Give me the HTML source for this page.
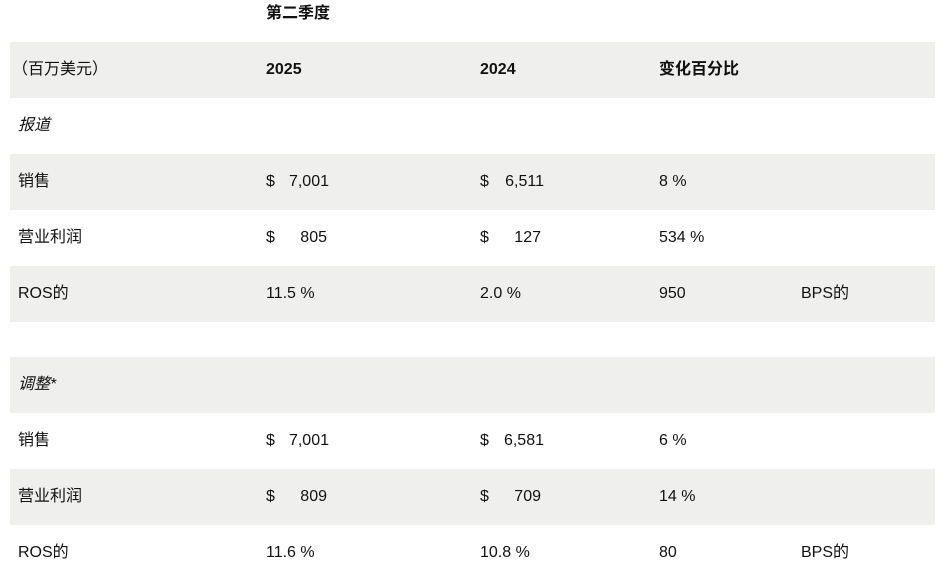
<!DOCTYPE html>
<html><head><meta charset="utf-8"><style>
body{margin:0;width:945px;height:577px;background:#fff;font-family:"Liberation Sans","Noto Sans CJK SC",sans-serif;font-size:16px;color:#111;position:relative;overflow:hidden}
.band{position:absolute;left:10px;width:925px;height:56px;background:#efefed}
.t{position:absolute;line-height:20px;white-space:nowrap}
.b{font-weight:bold}.i{font-style:italic}
.r{text-align:right}
</style></head><body>
<div class="t b" style="left:266px;top:4px">第二季度</div>
<div class="band" style="top:42px"></div>
<div class="band" style="top:154px"></div>
<div class="band" style="top:266px"></div>
<div class="band" style="top:357px"></div>
<div class="band" style="top:469px"></div>
<div id="cells"></div>
<script>
const rows=[
 {y:60,c:[["（百万美元）",12,""],["2025",266,"b"],["2024",480,"b"],["变化百分比",659,"b"]]},
 {y:116,c:[["报道",18,"i"]]},
 {y:172,c:[["销售",18,""],["$",266,""],["7,001",329,"r"],["$",480,""],["6,511",544,"r"],["8 %",659,""]]},
 {y:228,c:[["营业利润",18,""],["$",266,""],["805",327,"r"],["$",480,""],["127",541,"r"],["534 %",659,""]]},
 {y:284,c:[["ROS的",18,""],["11.5 %",266,""],["2.0 %",480,""],["950",659,""],["BPS的",801,""]]},
 {y:375,c:[["调整*",18,"i"]]},
 {y:431,c:[["销售",18,""],["$",266,""],["7,001",329,"r"],["$",480,""],["6,581",544,"r"],["6 %",659,""]]},
 {y:487,c:[["营业利润",18,""],["$",266,""],["809",327,"r"],["$",480,""],["709",541,"r"],["14 %",659,""]]},
 {y:543,c:[["ROS的",18,""],["11.6 %",266,""],["10.8 %",480,""],["80",659,""],["BPS的",801,""]]}
];
const host=document.getElementById('cells');
rows.forEach(r=>r.c.forEach(([txt,x,cls])=>{
 const d=document.createElement('div');
 
 
 d.className='t '+cls;
 d.textContent=txt;
 d.style.top=r.y+'px';
 if(cls==='r'){d.style.right=(945-x)+'px';}else{d.style.left=x+'px';}
 host.appendChild(d);
}));
</script>
</body></html>
